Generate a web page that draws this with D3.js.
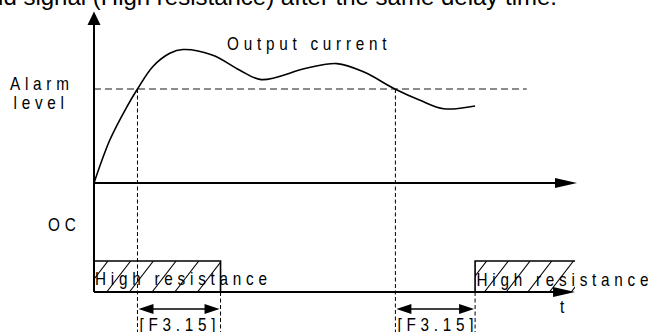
<!DOCTYPE html>
<html>
<head>
<meta charset="utf-8">
<script src="https://cdn.jsdelivr.net/npm/d3@7"></script>
<style>
  body { margin: 0; background: #fff; }
  svg { display: block; }
  text { font-family: "Liberation Sans", Arial, sans-serif; fill: #000; }
</style>
</head>
<body>
<svg width="648" height="332"></svg>
<script>
// time in arbitrary units (100 = tip of the time axis), current relative to alarm level (1)
const curveT = [0, 3.3, 6.8, 9.0, 12.2, 15.7, 18.4, 24.6, 30.2, 34.6, 43.9, 50.3, 55.9, 62.3, 67.5, 72.4, 78.9];
const curveI = [0, 0.46, 0.81, 1.0, 1.24, 1.38, 1.42, 1.36, 1.20, 1.10, 1.22, 1.27, 1.18, 1.0, 0.88, 0.79, 0.82];
const alarmLevel = 1.0;
const alarmEnd = 89.6;
const trips = [9.0, 62.4];          // current crosses the alarm level
const delayEnds = [26.2, 78.9];     // end of the [F3.15] delay
const ocHigh = [[0, 26.2], [78.9, 99.6]];
const highOpen = [false, true];     // second block runs off to the right
const delayLabel = '[F3.15]';

const svg = d3.select('svg');

const x = d3.scaleLinear().domain([0, 100]).range([94, 577]);
const y = d3.scaleLinear().domain([0, 1]).range([183, 89]);
const yOc = d3.scaleLinear().domain([0, 1]).range([292, 261]);

// caption line cut off at the top of the page
svg.append('text')
  .attr('x', 557).attr('y', 5)
  .attr('text-anchor', 'end')
  .attr('font-size', 24)
  .text('outputs the invalid signal (High resistance) after the same delay time.');

function label(px, py, str) {
  svg.append('g')
    .attr('transform', 'translate(' + px + ',' + py + ') scale(0.85,1)')
    .append('text')
    .attr('font-size', 18)
    .attr('letter-spacing', 5.6)
    .text(str);
}

// hatched OC blocks
const defs = svg.append('defs');
ocHigh.forEach((d, i) => {
  const x0 = x(d[0]), x1 = x(d[1]);
  defs.append('clipPath').attr('id', 'clip' + i)
    .append('rect')
    .attr('x', x0).attr('y', yOc(1))
    .attr('width', x1 - x0).attr('height', yOc(0) - yOc(1));
  const step = i === 0 ? 22.7 : 21.7;
  const start = i === 0 ? 108 - 3 * step : 486.7 - 3 * step;
  const dx = 24;
  svg.append('g').attr('clip-path', 'url(#clip' + i + ')')
    .selectAll('line')
    .data(d3.range(start, x1 + step, step))
    .join('line')
    .attr('x1', v => v - dx).attr('y1', yOc(0))
    .attr('x2', v => v).attr('y2', yOc(1))
    .attr('stroke', '#000').attr('stroke-width', 1.1);

  const p = d3.path();
  p.moveTo(x0, yOc(0)); p.lineTo(x0, yOc(1)); p.lineTo(x1, yOc(1));
  if (!highOpen[i]) p.lineTo(x1, yOc(0));
  svg.append('path').attr('d', p.toString())
    .attr('fill', 'none').attr('stroke', '#000').attr('stroke-width', 1.6);
});

// alarm level
svg.append('line')
  .attr('x1', x(0)).attr('x2', x(alarmEnd))
  .attr('y1', y(alarmLevel)).attr('y2', y(alarmLevel))
  .attr('stroke', '#666').attr('stroke-width', 1.3)
  .attr('stroke-dasharray', '7,4');

// dashed drop lines
trips.forEach(t => {
  svg.append('line')
    .attr('x1', x(t)).attr('x2', x(t))
    .attr('y1', y(alarmLevel)).attr('y2', 332)
    .attr('stroke', '#000').attr('stroke-width', 1)
    .attr('stroke-dasharray', '4,2.5');
});
delayEnds.forEach(t => {
  svg.append('line')
    .attr('x1', x(t)).attr('x2', x(t))
    .attr('y1', yOc(0)).attr('y2', 332)
    .attr('stroke', '#000').attr('stroke-width', 1)
    .attr('stroke-dasharray', '4,2.5');
});

// axes
svg.append('line')
  .attr('x1', x(0)).attr('x2', x(0)).attr('y1', 24).attr('y2', yOc(0))
  .attr('stroke', '#000').attr('stroke-width', 2);
svg.append('path')
  .attr('d', `M${x(0)},11.5 L${x(0) - 6.5},25 L${x(0) + 6.5},25 Z`)
  .attr('fill', '#000');

svg.append('line')
  .attr('x1', x(0)).attr('x2', x(100) - 20).attr('y1', y(0)).attr('y2', y(0))
  .attr('stroke', '#000').attr('stroke-width', 1.8);
svg.append('path')
  .attr('d', `M${x(100)},${y(0)} L${x(100) - 22},${y(0) - 5} L${x(100) - 22},${y(0) + 5} Z`)
  .attr('fill', '#000');

svg.append('line')
  .attr('x1', x(0)).attr('x2', x(99.6) - 20).attr('y1', yOc(0)).attr('y2', yOc(0))
  .attr('stroke', '#000').attr('stroke-width', 1.8);
svg.append('path')
  .attr('d', `M${x(99.6)},${yOc(0)} L${x(99.6) - 22},${yOc(0) - 5} L${x(99.6) - 22},${yOc(0) + 5} Z`)
  .attr('fill', '#000');

// output current curve
const line = d3.line()
  .x((d, i) => x(curveT[i]))
  .y(d => y(d))
  .curve(d3.curveCatmullRom.alpha(0.5));
svg.append('path')
  .attr('d', line(curveI))
  .attr('fill', 'none').attr('stroke', '#000').attr('stroke-width', 1.6);

// delay arrows
const arrowY = 309;
trips.forEach((t, i) => {
  const a = x(t), b = x(delayEnds[i]);
  svg.append('line')
    .attr('x1', a + 10).attr('x2', b - 10).attr('y1', arrowY).attr('y2', arrowY)
    .attr('stroke', '#000').attr('stroke-width', 1.5);
  svg.append('path')
    .attr('d', `M${a + 1},${arrowY} L${a + 16},${arrowY - 5} L${a + 16},${arrowY + 5} Z M${b - 1},${arrowY} L${b - 16},${arrowY - 5} L${b - 16},${arrowY + 5} Z`)
    .attr('fill', '#000');
  label(a + 2, 331, delayLabel);
});

// labels
label(10, 90, 'Alarm');
label(13.5, 109, 'level');
label(227, 50, 'Output current');
label(48, 230.5, 'OC');
label(95, 285, 'High resistance');
label(476.5, 285.5, 'High resistance');
label(560, 313, 't');
</script>
</body>
</html>
